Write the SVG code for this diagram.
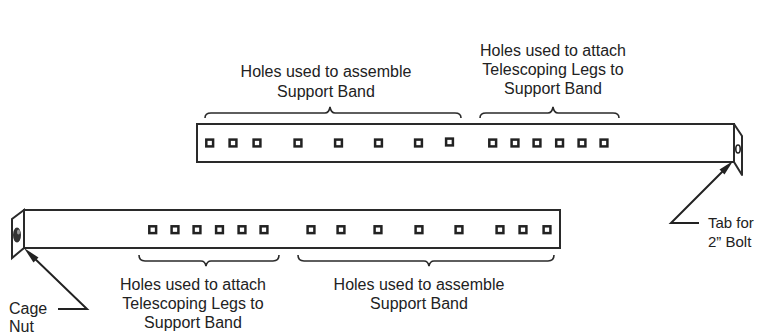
<svg xmlns="http://www.w3.org/2000/svg" width="757" height="335" viewBox="0 0 757 335">
<defs>
<rect id="h" x="-3.400" y="-3.400" width="6.800" height="6.800"/>
</defs>
<style>
text{font-family:"Liberation Sans",Arial,sans-serif;font-size:16px;fill:#222}
.m{text-anchor:middle}
.tab{font-size:15px}
.bar{fill:none;stroke:#2a2a2a;stroke-width:2}
.hole use{fill:#fff;stroke:#222;stroke-width:2.500}
.brace{fill:none;stroke:#2a2a2a;stroke-width:1.600}
.lead{fill:none;stroke:#222;stroke-width:2}
</style>
<rect width="757" height="335" fill="#fff"/>
<g id="top-band">
<path class="bar" d="M734 124H197V162H734Z"/>
<path class="bar" stroke-linejoin="round" d="M734 124L742 136V175L734 162Z"/>
<ellipse cx="738" cy="149" rx="2.200" ry="4" fill="#fff" stroke="#222" stroke-width="1.600"/>
<g class="hole">
<use href="#h" x="209.700" y="143"/><use href="#h" x="233" y="143"/><use href="#h" x="257" y="143"/><use href="#h" x="298" y="143"/><use href="#h" x="338.500" y="143"/><use href="#h" x="378.500" y="143"/><use href="#h" x="418.500" y="143"/><use href="#h" x="449.500" y="142"/>
<use href="#h" x="492.700" y="143"/><use href="#h" x="515" y="143"/><use href="#h" x="537" y="143"/><use href="#h" x="559.600" y="143"/><use href="#h" x="582" y="143"/><use href="#h" x="604" y="143"/>
</g>
</g>
<g id="bottom-band">
<path class="bar" d="M24 210H560V248H24Z"/>
<path class="bar" d="M24 210L12 219V258L24 248Z"/>
<ellipse cx="17" cy="235" rx="4" ry="7.500" fill="#333"/>
<ellipse cx="18.500" cy="232" rx="1.500" ry="2.500" fill="#999"/>
<g class="hole">
<use href="#h" x="152.700" y="229.700"/><use href="#h" x="175" y="229.700"/><use href="#h" x="197" y="229.700"/><use href="#h" x="219.500" y="229.700"/><use href="#h" x="242" y="229.700"/><use href="#h" x="264" y="229.700"/>
<use href="#h" x="311" y="229.700"/><use href="#h" x="341" y="229.700"/><use href="#h" x="378" y="229.700"/><use href="#h" x="419" y="229.700"/><use href="#h" x="459" y="229.700"/><use href="#h" x="500" y="229.700"/><use href="#h" x="523" y="229.700"/><use href="#h" x="547" y="229.700"/>
</g>
</g>
<g id="braces">
<path class="brace" d="M205 118Q205 113 211 113H325Q329 113 330 107Q331 113 335 113H455Q461 113 461 118"/>
<path class="brace" d="M480 118Q480 113 486 113H548Q552 113 553 107Q554 113 558 113H613Q619 113 619 118"/>
<path class="brace" d="M139 255Q139 261 145 261H201Q205 261 206 266Q207 261 211 261H273Q279 261 279 255"/>
<path class="brace" d="M298 255Q298 261 304 261H424Q428 261 429 266Q430 261 434 261H548Q554 261 554 255"/>
</g>
<g id="connectors">
<path class="lead" d="M58 309H87L30 254"/>
<path d="M24 248L38.500 257.500L33.500 262.500Z" fill="#222"/>
<path class="lead" d="M699 223H671L728 166"/>
<path d="M733 161L724.500 174.500L719.500 169.500Z" fill="#222"/>
</g>
<g id="labels">
<text class="m" x="326" y="77">Holes used to assemble</text>
<text class="m" x="326" y="97">Support Band</text>
<text class="m" x="553" y="56">Holes used to attach</text>
<text class="m" x="553" y="75">Telescoping Legs to</text>
<text class="m" x="553" y="94">Support Band</text>
<text class="m" x="193" y="290">Holes used to attach</text>
<text class="m" x="193" y="309">Telescoping Legs to</text>
<text class="m" x="193" y="328">Support Band</text>
<text class="m" x="419" y="290">Holes used to assemble</text>
<text class="m" x="419" y="309">Support Band</text>
<text x="9" y="314">Cage</text>
<text x="9" y="332">Nut</text>
<text class="tab" x="708" y="228">Tab for</text>
<text class="tab" x="708" y="247">2” Bolt</text>
</g>
</svg>
